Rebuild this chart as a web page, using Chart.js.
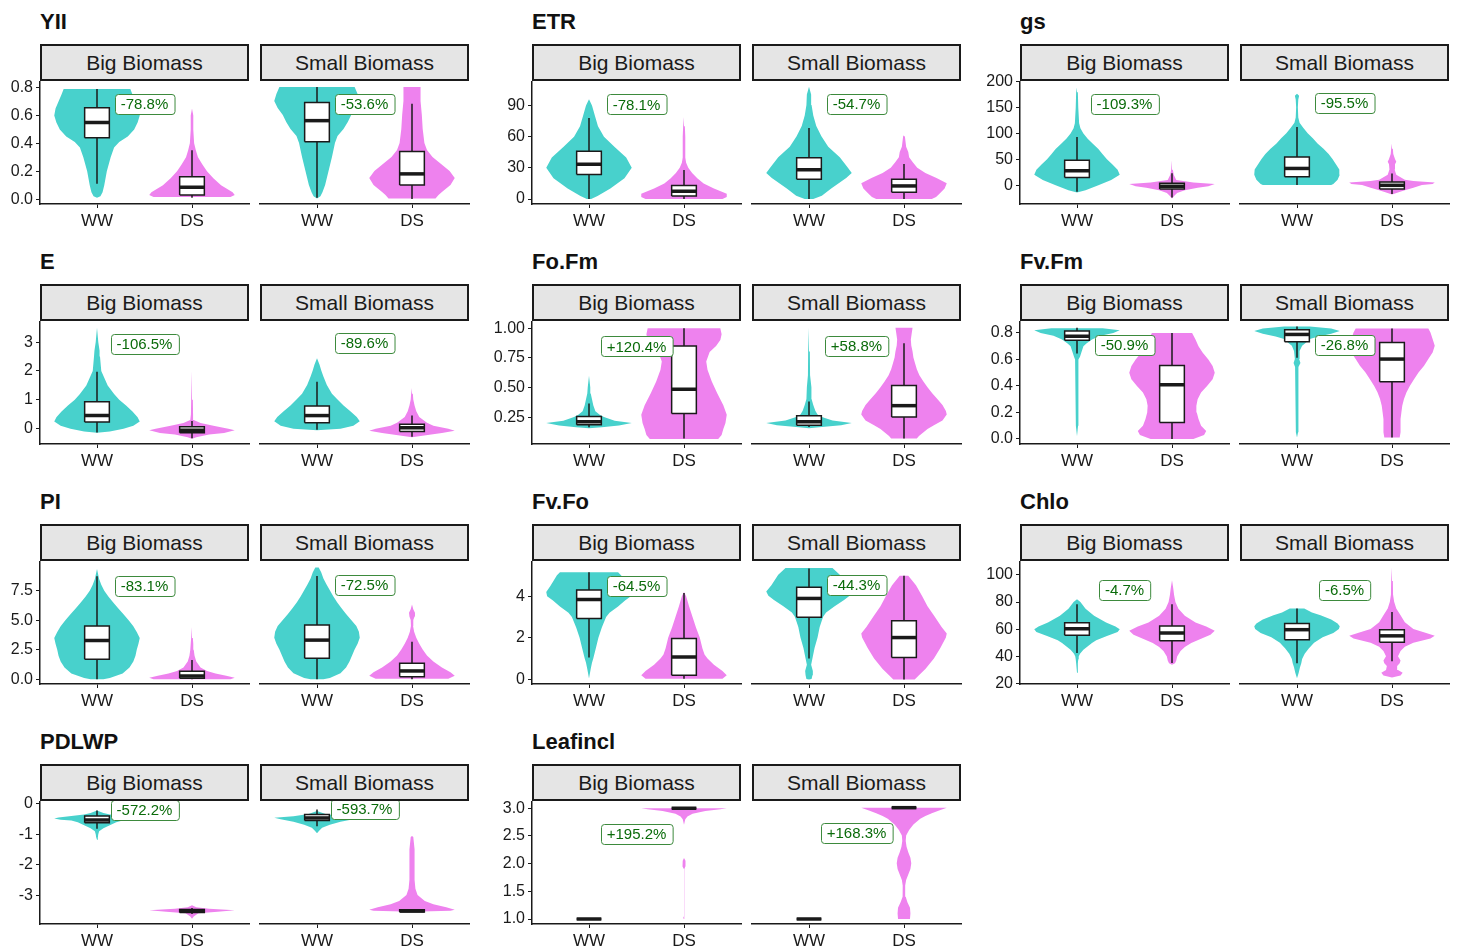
<!DOCTYPE html>
<html>
<head>
<meta charset="utf-8">
<title>Trait distributions by biomass group and water treatment</title>
<script src="https://cdn.jsdelivr.net/npm/chart.js@4.4.1/dist/chart.umd.min.js"></script>
<style>
  html, body { margin: 0; padding: 0; background: #ffffff; }
  body { position: relative; width: 1458px; height: 951px; overflow: hidden;
         font-family: "Liberation Sans", Arial, sans-serif; color: #111; }
  canvas { position: absolute; }
  .trait-title { position: absolute; font-weight: bold; font-size: 22px; line-height: 24px; color: #111; white-space: nowrap; }
  .strip { position: absolute; box-sizing: border-box; background: #e5e5e5; border: 2px solid #1a1a1a;
           font-size: 21px; text-align: center; color: #1a1a1a; white-space: nowrap; }
</style>
</head>
<body>
<script>
// ---------- categories ----------
const conditions = ['WW', 'DS'];
const biomassGroups = ['Big Biomass', 'Small Biomass'];

// Violin outlines are [value, relative half-width]; boxes are
// [lower whisker, Q1, median, Q3, upper whisker] in the order
// Big WW, Big DS, Small WW, Small DS.

// ---------- YII ----------
const yiiTicks = [0, 0.2, 0.4, 0.6, 0.8];
const yiiTickLabels = ['0.0', '0.2', '0.4', '0.6', '0.8'];
const yiiRange = [-0.035, 0.843];
const yiiChange = ['-78.8%', '-53.6%'];
const yiiLabelAt = 0.68;
const yiiBox = [[0.11, 0.44, 0.55, 0.655, 0.79], [0.01, 0.03, 0.085, 0.16, 0.35], [0.01, 0.41, 0.56, 0.69, 0.8], [0.0, 0.1, 0.18, 0.34, 0.68]];
const yiiBigWW = [[0.01,0],[0.02,0.08],[0.05,0.13],[0.1,0.17],[0.2,0.23],[0.3,0.32],[0.37,0.4],[0.41,0.52],[0.45,0.72],[0.5,0.87],[0.55,0.95],[0.6,1.0],[0.65,0.97],[0.7,0.9],[0.75,0.83],[0.79,0.78]];
const yiiBigDS = [[0.015,0.9],[0.03,1.0],[0.05,0.95],[0.1,0.68],[0.15,0.5],[0.2,0.35],[0.25,0.24],[0.3,0.14],[0.35,0.09],[0.4,0.05],[0.5,0.03],[0.6,0.03],[0.65,0]];
const yiiSmallWW = [[0.005,0],[0.02,0.08],[0.05,0.13],[0.1,0.19],[0.2,0.27],[0.3,0.35],[0.4,0.42],[0.45,0.48],[0.5,0.62],[0.55,0.72],[0.6,0.8],[0.65,0.92],[0.7,1.0],[0.75,0.95],[0.8,0.88]];
const yiiSmallDS = [[0.005,0.55],[0.03,0.62],[0.05,0.7],[0.1,0.9],[0.15,1.0],[0.2,0.88],[0.25,0.68],[0.3,0.48],[0.35,0.35],[0.4,0.29],[0.5,0.25],[0.6,0.23],[0.7,0.2],[0.8,0.2]];

// ---------- ETR ----------
const etrTicks = [0, 30, 60, 90];
const etrTickLabels = ['0', '30', '60', '90'];
const etrRange = [-4.8, 113];
const etrChange = ['-78.1%', '-54.7%'];
const etrLabelAt = 91;
const etrBox = [[0, 23.5, 33.5, 46, 78], [0, 3, 7.5, 13, 28], [0, 19, 28, 39.5, 68], [0, 6.5, 12.5, 19, 33.5]];
const etrBigWW = [[0,0.05],[3,0.2],[10,0.5],[20,0.83],[30,1.0],[40,0.87],[50,0.6],[60,0.35],[70,0.21],[80,0.14],[90,0.07],[96,0]];
const etrBigDS = [[0,0.9],[2,1.0],[5,1.0],[10,0.7],[15,0.46],[20,0.31],[25,0.19],[30,0.1],[35,0.05],[40,0.03],[60,0.03],[70,0.02],[79,0]];
const etrSmallWW = [[0,0.1],[3,0.3],[10,0.52],[20,0.87],[25,1.0],[30,0.91],[40,0.72],[50,0.45],[60,0.29],[70,0.17],[80,0.1],[90,0.06],[100,0.05],[107.5,0]];
const etrSmallDS = [[0,0.65],[2,0.75],[5,0.83],[10,0.95],[15,1.0],[20,0.76],[25,0.5],[30,0.31],[35,0.21],[40,0.12],[45,0.1],[50,0.05],[60,0.02],[61,0]];

// ---------- gs ----------
const gsTicks = [0, 50, 100, 150, 200];
const gsTickLabels = ['0', '50', '100', '150', '200'];
const gsRange = [-36.5, 200.5];
const gsChange = ['-109.3%', '-95.5%'];
const gsLabelAt = 158;
const gsBox = [[-13, 15, 28, 48, 93], [-24, -7.5, -2, 3.5, 23], [0, 16, 32, 54, 112], [-17, -7.5, -0.5, 6, 22.5]];
const gsBigWW = [[-14,0],[-10,0.2],[0,0.5],[10,0.8],[20,1.0],[30,0.95],[40,0.83],[50,0.7],[60,0.6],[70,0.5],[80,0.37],[90,0.25],[100,0.15],[110,0.08],[120,0.05],[150,0.03],[180,0.02],[189,0]];
const gsBigDS = [[-26,0],[-20,0.06],[-15,0.12],[-10,0.3],[-5,0.6],[-2,0.85],[2,1.0],[5,0.5],[10,0.1],[20,0.04],[30,0.02],[48,0]];
const gsSmallWW = [[0,0.8],[2,0.85],[10,0.95],[20,1.0],[30,0.99],[40,0.91],[50,0.83],[60,0.74],[70,0.62],[80,0.48],[90,0.37],[100,0.25],[110,0.15],[120,0.06],[130,0.03],[150,0.02],[165,0.03],[172,0.05],[176,0]];
const gsSmallDS = [[-18,0],[-15,0.12],[-10,0.3],[-5,0.5],[0,0.7],[2,0.95],[5,1.0],[8,0.5],[10,0.3],[20,0.1],[30,0.06],[40,0.07],[45,0.1],[50,0.07],[60,0.03],[70,0.02],[80,0]];

// ---------- E ----------
const eTicks = [0, 1, 2, 3];
const eTickLabels = ['0', '1', '2', '3'];
const eRange = [-0.53, 3.71];
const eChange = ['-106.5%', '-89.6%'];
const eLabelAt = 2.95;
const eBox = [[-0.13, 0.23, 0.46, 0.93, 1.97], [-0.33, -0.14, -0.05, 0.07, 0.27], [-0.04, 0.2, 0.45, 0.78, 1.62], [-0.28, -0.1, 0.03, 0.15, 0.45]];
const eBigWW = [[-0.14,0],[-0.1,0.3],[0,0.62],[0.1,0.85],[0.25,1.0],[0.4,0.95],[0.6,0.83],[0.8,0.68],[1.0,0.52],[1.2,0.4],[1.5,0.25],[2.0,0.1],[2.5,0.07],[2.7,0.06],[3.0,0.03],[3.5,0]];
const eBigDS = [[-0.35,0],[-0.3,0.1],[-0.2,0.4],[-0.15,0.75],[-0.05,1.0],[0,0.85],[0.1,0.5],[0.2,0.2],[0.3,0.04],[0.5,0.025],[1.0,0.02],[2.0,0]];
const eSmallWW = [[-0.06,0],[0,0.55],[0.1,0.85],[0.25,1.0],[0.4,0.93],[0.6,0.78],[0.8,0.62],[1.0,0.48],[1.2,0.35],[1.5,0.23],[1.8,0.15],[2.0,0.1],[2.2,0.06],[2.43,0]];
const eSmallDS = [[-0.3,0],[-0.2,0.45],[-0.15,0.7],[-0.07,1.0],[0,0.85],[0.1,0.5],[0.2,0.35],[0.4,0.17],[0.6,0.1],[0.8,0.06],[1.0,0.03],[1.2,0.02],[1.4,0]];

// ---------- Fo.Fm ----------
const fofmTicks = [0.25, 0.5, 0.75, 1.0];
const fofmTickLabels = ['0.25', '0.50', '0.75', '1.00'];
const fofmRange = [0.023, 1.056];
const fofmChange = ['+120.4%', '+58.8%'];
const fofmLabelAt = 0.846;
const fofmBox = [[0.165, 0.185, 0.21, 0.255, 0.365], [0.07, 0.28, 0.485, 0.85, 1.0], [0.165, 0.18, 0.21, 0.26, 0.38], [0.07, 0.25, 0.345, 0.515, 0.87]];
const fofmBigWW = [[0.155,0],[0.165,0.3],[0.18,0.7],[0.2,1.0],[0.22,0.6],[0.25,0.35],[0.27,0.25],[0.3,0.15],[0.35,0.1],[0.4,0.07],[0.45,0.04],[0.5,0.03],[0.6,0]];
const fofmBigDS = [[0.065,0.8],[0.1,0.88],[0.15,0.92],[0.2,0.97],[0.27,1.0],[0.35,0.92],[0.45,0.78],[0.55,0.65],[0.65,0.55],[0.72,0.52],[0.8,0.6],[0.85,0.75],[0.9,0.85],[0.95,0.88],[1.0,0.85]];
const fofmSmallWW = [[0.155,0],[0.165,0.3],[0.18,0.75],[0.2,1.0],[0.22,0.55],[0.25,0.3],[0.27,0.2],[0.3,0.15],[0.35,0.1],[0.4,0.06],[0.44,0.05],[0.47,0.07],[0.5,0.05],[0.6,0.025],[0.8,0.02],[1.0,0]];
const fofmSmallDS = [[0.07,0.3],[0.09,0.35],[0.12,0.45],[0.15,0.55],[0.18,0.7],[0.22,0.9],[0.27,1.0],[0.3,0.98],[0.35,0.9],[0.4,0.78],[0.45,0.66],[0.5,0.55],[0.55,0.45],[0.6,0.36],[0.65,0.3],[0.7,0.26],[0.75,0.22],[0.8,0.2],[0.85,0.17],[0.9,0.16],[0.95,0.18],[1.0,0.2]];

// ---------- Fv.Fm ----------
const fvfmTicks = [0, 0.2, 0.4, 0.6, 0.8];
const fvfmTickLabels = ['0.0', '0.2', '0.4', '0.6', '0.8'];
const fvfmRange = [-0.038, 0.886];
const fvfmChange = ['-50.9%', '-26.8%'];
const fvfmLabelAt = 0.707;
const fvfmBox = [[0.645, 0.745, 0.775, 0.815, 0.84], [0.0, 0.125, 0.41, 0.555, 0.8], [0.61, 0.73, 0.785, 0.82, 0.845], [0.01, 0.43, 0.6, 0.725, 0.83]];
const fvfmBigWW = [[0.02,0],[0.1,0.025],[0.3,0.025],[0.5,0.03],[0.6,0.045],[0.62,0.07],[0.65,0.1],[0.7,0.15],[0.72,0.22],[0.75,0.35],[0.78,0.55],[0.8,0.85],[0.82,1.0],[0.835,0.6]];
const fvfmBigDS = [[0.0,0.5],[0.03,0.75],[0.06,0.8],[0.1,0.68],[0.15,0.62],[0.2,0.58],[0.25,0.57],[0.3,0.6],[0.35,0.68],[0.4,0.82],[0.45,0.95],[0.5,1.0],[0.55,0.95],[0.6,0.85],[0.65,0.72],[0.7,0.62],[0.75,0.55],[0.8,0.47]];
const fvfmSmallWW = [[0.01,0],[0.05,0.025],[0.3,0.025],[0.5,0.03],[0.54,0.045],[0.57,0.08],[0.6,0.05],[0.62,0.05],[0.66,0.07],[0.7,0.12],[0.72,0.2],[0.75,0.3],[0.77,0.5],[0.79,0.8],[0.81,1.0],[0.83,0.8],[0.845,0.3]];
const fvfmSmallDS = [[0.01,0.18],[0.05,0.2],[0.1,0.2],[0.15,0.2],[0.2,0.22],[0.25,0.24],[0.3,0.28],[0.35,0.34],[0.4,0.42],[0.45,0.52],[0.5,0.62],[0.55,0.75],[0.6,0.85],[0.65,0.95],[0.7,1.0],[0.75,0.95],[0.8,0.9],[0.83,0.85]];

// ---------- PI ----------
const piTicks = [0, 2.5, 5, 7.5];
const piTickLabels = ['0.0', '2.5', '5.0', '7.5'];
const piRange = [-0.4, 9.97];
const piChange = ['-83.1%', '-72.5%'];
const piLabelAt = 7.94;
const piBox = [[0, 1.7, 3.28, 4.52, 8.73], [0, 0.08, 0.28, 0.67, 1.63], [0, 1.77, 3.3, 4.57, 8.7], [0, 0.22, 0.7, 1.35, 3.17]];
const piBigWW = [[0,0.15],[0.1,0.3],[0.5,0.6],[1.0,0.76],[1.5,0.85],[2.0,0.9],[2.5,0.93],[3.0,0.97],[3.5,1.0],[4.0,0.93],[4.5,0.85],[5.0,0.74],[5.5,0.62],[6.0,0.5],[6.5,0.38],[7.0,0.27],[7.5,0.17],[8.0,0.1],[8.5,0.05],[9.35,0]];
const piBigDS = [[0.0,0.9],[0.12,1.0],[0.3,0.8],[0.5,0.55],[0.7,0.35],[1.0,0.2],[1.5,0.1],[2.0,0.06],[2.5,0.04],[3.0,0.03],[3.5,0.02],[4.43,0]];
const piSmallWW = [[0,0.15],[0.1,0.3],[0.5,0.55],[1.0,0.68],[1.5,0.76],[2.0,0.82],[2.5,0.88],[3.0,0.95],[3.5,1.0],[4.0,0.98],[4.5,0.92],[5.0,0.8],[5.5,0.68],[6.0,0.57],[6.5,0.47],[7.0,0.38],[7.5,0.3],[8.0,0.22],[8.5,0.15],[9.0,0.1],[9.43,0.04]];
const piSmallDS = [[0.05,0.85],[0.3,1.0],[0.6,0.9],[1.0,0.7],[1.5,0.5],[2.0,0.35],[2.5,0.25],[3.0,0.17],[3.5,0.1],[4.0,0.05],[4.5,0.025],[5.0,0.03],[5.3,0.06],[5.6,0.07],[5.9,0.03],[6.3,0]];

// ---------- Fv.Fo ----------
const fvfoTicks = [0, 2, 4];
const fvfoTickLabels = ['0', '2', '4'];
const fvfoRange = [-0.22, 5.66];
const fvfoChange = ['-64.5%', '-44.3%'];
const fvfoLabelAt = 4.51;
const fvfoBox = [[1.05, 2.93, 3.84, 4.29, 5.15], [0.03, 0.2, 1.08, 1.96, 4.15], [1.0, 2.97, 3.87, 4.4, 5.3], [0, 1.05, 2.0, 2.8, 4.95]];
const fvfoBigWW = [[0.05,0],[0.5,0.04],[0.8,0.07],[1.0,0.1],[1.5,0.16],[2.0,0.22],[2.5,0.3],[3.0,0.4],[3.2,0.48],[3.5,0.68],[3.8,0.85],[4.0,0.98],[4.2,1.0],[4.5,0.9],[5.0,0.75],[5.15,0.68]];
const fvfoBigDS = [[0.03,0.9],[0.2,1.0],[0.4,0.9],[0.7,0.7],[1.0,0.55],[1.2,0.48],[1.5,0.43],[2.0,0.37],[2.5,0.28],[3.0,0.2],[3.5,0.12],[4.0,0.05],[4.2,0]];
const fvfoSmallWW = [[0,0],[0.02,0.06],[0.2,0.08],[0.4,0.09],[0.7,0.05],[1.0,0.08],[1.5,0.13],[2.0,0.2],[2.5,0.25],[3.0,0.33],[3.2,0.4],[3.5,0.6],[3.8,0.82],[4.0,0.95],[4.2,1.0],[4.5,0.88],[5.0,0.72],[5.33,0.55]];
const fvfoSmallDS = [[0,0.25],[0.2,0.35],[0.5,0.5],[1.0,0.7],[1.5,0.85],[2.0,0.98],[2.2,1.0],[2.5,0.88],[3.0,0.72],[3.5,0.55],[4.0,0.42],[4.5,0.28],[4.7,0.2],[4.95,0.1]];

// ---------- Chlo ----------
const chloTicks = [20, 40, 60, 80, 100];
const chloTickLabels = ['20', '40', '60', '80', '100'];
const chloRange = [19.8, 109.7];
const chloChange = ['-4.7%', '-6.5%'];
const chloLabelAt = 88.6;
const chloBox = [[42.5, 55.6, 60.3, 64.8, 78.4], [35.3, 51.5, 57.3, 62.4, 78.4], [35, 52.2, 59.5, 64, 75], [36.5, 50.3, 55, 59.5, 72.4]];
const chloBigWW = [[28,0],[35,0.02],[38,0.03],[40,0.04],[42,0.07],[45,0.15],[50,0.35],[52,0.45],[55,0.7],[58,0.95],[60,1.0],[62,0.9],[65,0.68],[70,0.4],[75,0.2],[80,0.08],[82,0]];
const chloBigDS = [[34,0],[35,0.07],[37,0.1],[40,0.12],[44,0.2],[47,0.3],[50,0.45],[53,0.68],[56,0.9],[59,1.0],[62,0.8],[65,0.55],[70,0.3],[75,0.15],[80,0.08],[85,0.05],[90,0.03],[96,0]];
const chloSmallWW = [[24,0],[28,0.04],[32,0.07],[35,0.1],[38,0.12],[42,0.18],[46,0.28],[50,0.4],[54,0.6],[57,0.85],[60,0.98],[62,1.0],[64,0.95],[67,0.8],[70,0.55],[72,0.35],[75,0.17]];
const chloSmallDS = [[24.5,0],[26,0.2],[28,0.25],[30,0.14],[33,0.12],[35,0.18],[37,0.2],[40,0.14],[44,0.2],[47,0.3],[50,0.5],[53,0.9],[55,1.0],[57,0.8],[60,0.5],[65,0.3],[70,0.2],[75,0.1],[80,0.05],[85,0.025],[95,0.02],[105,0]];

// ---------- PDLWP ----------
const pdlwpTicks = [-3, -2, -1, 0];
const pdlwpTickLabels = ['-3', '-2', '-1', '0'];
const pdlwpRange = [-3.95, 0.075];
const pdlwpChange = ['-572.2%', '-593.7%'];
const pdlwpLabelAt = -0.19;
const pdlwpBox = [[-0.82, -0.62, -0.53, -0.4, -0.22], [-3.62, -3.57, -3.52, -3.47, -3.42], [-0.75, -0.56, -0.48, -0.37, -0.2], [-3.56, -3.56, -3.52, -3.48, -3.48]];
const pdlwpBigWW = [[-1.18,0],[-1.1,0.02],[-1.0,0.03],[-0.9,0.05],[-0.8,0.15],[-0.7,0.3],[-0.6,0.45],[-0.55,0.6],[-0.52,0.85],[-0.48,1.0],[-0.45,0.9],[-0.4,0.6],[-0.35,0.3],[-0.3,0.15],[-0.22,0]];
const pdlwpBigDS = [[-3.78,0],[-3.7,0.04],[-3.6,0.15],[-3.55,0.6],[-3.5,1.0],[-3.45,0.4],[-3.4,0.1],[-3.33,0]];
const pdlwpSmallWW = [[-0.98,0],[-0.9,0.05],[-0.8,0.12],[-0.7,0.3],[-0.6,0.55],[-0.52,0.85],[-0.47,1.0],[-0.42,0.55],[-0.35,0.2],[-0.25,0]];
const pdlwpSmallDS = [[-3.55,0],[-3.52,0.9],[-3.48,1.0],[-3.4,0.8],[-3.3,0.5],[-3.2,0.3],[-3.0,0.13],[-2.8,0.08],[-2.5,0.06],[-2.0,0.06],[-1.5,0.06],[-1.1,0.03],[-1.07,0]];

// ---------- Leafincl ----------
const leafTicks = [1, 1.5, 2, 2.5, 3];
const leafTickLabels = ['1.0', '1.5', '2.0', '2.5', '3.0'];
const leafRange = [0.91, 3.12];
const leafChange = ['+195.2%', '+168.3%'];
const leafLabelAt = 2.54;
const leafBox = [[1, 1, 1, 1, 1], [3, 3, 3, 3, 3], [1, 1, 1, 1, 1], [3, 3, 3, 3, 3]];
const leafBigWW = [];
const leafBigDS = [[1.0,0],[1.02,0.02],[1.05,0],[1.9,0],[1.95,0.03],[2.0,0.04],[2.05,0.03],[2.1,0],[2.7,0],[2.8,0.03],[2.85,0.08],[2.9,0.2],[2.95,0.5],[2.98,0.85],[3.0,1.0]];
const leafSmallWW = [];
const leafSmallDS = [[1.0,0.14],[1.1,0.15],[1.2,0.14],[1.3,0.08],[1.4,0.04],[1.5,0.025],[1.6,0.03],[1.7,0.05],[1.8,0.1],[1.9,0.15],[2.0,0.17],[2.1,0.15],[2.2,0.1],[2.3,0.06],[2.4,0.04],[2.5,0.05],[2.6,0.12],[2.7,0.22],[2.8,0.38],[2.85,0.5],[2.9,0.65],[2.95,0.82],[3.0,1.0]];

// ---------- table of traits built from the arrays above ----------
const traitTable = [
  { name: 'YII', ticks: yiiTicks, tickLabels: yiiTickLabels, range: yiiRange, change: yiiChange, labelAt: yiiLabelAt, box: yiiBox, violins: [yiiBigWW, yiiBigDS, yiiSmallWW, yiiSmallDS] },
  { name: 'ETR', ticks: etrTicks, tickLabels: etrTickLabels, range: etrRange, change: etrChange, labelAt: etrLabelAt, box: etrBox, violins: [etrBigWW, etrBigDS, etrSmallWW, etrSmallDS] },
  { name: 'gs', ticks: gsTicks, tickLabels: gsTickLabels, range: gsRange, change: gsChange, labelAt: gsLabelAt, box: gsBox, violins: [gsBigWW, gsBigDS, gsSmallWW, gsSmallDS] },
  { name: 'E', ticks: eTicks, tickLabels: eTickLabels, range: eRange, change: eChange, labelAt: eLabelAt, box: eBox, violins: [eBigWW, eBigDS, eSmallWW, eSmallDS] },
  { name: 'Fo.Fm', ticks: fofmTicks, tickLabels: fofmTickLabels, range: fofmRange, change: fofmChange, labelAt: fofmLabelAt, box: fofmBox, violins: [fofmBigWW, fofmBigDS, fofmSmallWW, fofmSmallDS] },
  { name: 'Fv.Fm', ticks: fvfmTicks, tickLabels: fvfmTickLabels, range: fvfmRange, change: fvfmChange, labelAt: fvfmLabelAt, box: fvfmBox, violins: [fvfmBigWW, fvfmBigDS, fvfmSmallWW, fvfmSmallDS] },
  { name: 'PI', ticks: piTicks, tickLabels: piTickLabels, range: piRange, change: piChange, labelAt: piLabelAt, box: piBox, violins: [piBigWW, piBigDS, piSmallWW, piSmallDS] },
  { name: 'Fv.Fo', ticks: fvfoTicks, tickLabels: fvfoTickLabels, range: fvfoRange, change: fvfoChange, labelAt: fvfoLabelAt, box: fvfoBox, violins: [fvfoBigWW, fvfoBigDS, fvfoSmallWW, fvfoSmallDS] },
  { name: 'Chlo', ticks: chloTicks, tickLabels: chloTickLabels, range: chloRange, change: chloChange, labelAt: chloLabelAt, box: chloBox, violins: [chloBigWW, chloBigDS, chloSmallWW, chloSmallDS] },
  { name: 'PDLWP', ticks: pdlwpTicks, tickLabels: pdlwpTickLabels, range: pdlwpRange, change: pdlwpChange, labelAt: pdlwpLabelAt, box: pdlwpBox, violins: [pdlwpBigWW, pdlwpBigDS, pdlwpSmallWW, pdlwpSmallDS] },
  { name: 'Leafincl', ticks: leafTicks, tickLabels: leafTickLabels, range: leafRange, change: leafChange, labelAt: leafLabelAt, box: leafBox, violins: [leafBigWW, leafBigDS, leafSmallWW, leafSmallDS] }
];

// ---------- page layout ----------
const colLeft = [40, 532, 1020];
const rowStripTop = [44, 284, 524, 764];
const facetW = 209, facetGap = 11, stripH = 37, plotH = 123;
const axisW = 45, padTop = 12, padRight = 6, xAxisH = 40;
const FONT = '"Liberation Sans", Arial, sans-serif';
const fillColors = ['#48D1CC', '#EE82EE'];
const INK = '#1a1a1a';
const HALF_WIDTH = 0.45;   // violin half-width in category units
const BOX_HALF = 0.13;     // box half-width in category units

Chart.defaults.font.family = FONT;

// Violin outline: right edge upward, then left edge back down.
function violinPoints(profile, center) {
  const right = profile.map(([v, w]) => ({ x: center + w * HALF_WIDTH, y: v }));
  const left = profile.slice().reverse().map(([v, w]) => ({ x: center - w * HALF_WIDTH, y: v }));
  return right.concat(left);
}

// Percent-change label placed in data coordinates between the two conditions.
const changeLabelPlugin = {
  id: 'changeLabel',
  afterDatasetsDraw(chart, args, opts) {
    if (!opts || !opts.text) return;
    const { ctx } = chart;
    const px = chart.scales.x.getPixelForValue(opts.at[0]);
    const py = chart.scales.y.getPixelForValue(opts.at[1]);
    ctx.save();
    ctx.font = '15px ' + FONT;
    const w = ctx.measureText(opts.text).width + 12, h = 20, r = 3;
    const x0 = Math.round(px - w / 2) + 0.5, y0 = Math.round(py - h / 2) + 0.5;
    ctx.beginPath();
    ctx.moveTo(x0 + r, y0);
    ctx.lineTo(x0 + w - r, y0); ctx.arcTo(x0 + w, y0, x0 + w, y0 + r, r);
    ctx.lineTo(x0 + w, y0 + h - r); ctx.arcTo(x0 + w, y0 + h, x0 + w - r, y0 + h, r);
    ctx.lineTo(x0 + r, y0 + h); ctx.arcTo(x0, y0 + h, x0, y0 + h - r, r);
    ctx.lineTo(x0, y0 + r); ctx.arcTo(x0, y0, x0 + r, y0, r);
    ctx.closePath();
    ctx.fillStyle = '#ffffff'; ctx.fill();
    ctx.strokeStyle = '#3d8a3d'; ctx.lineWidth = 1; ctx.stroke();
    ctx.fillStyle = '#0a6b0a'; ctx.textAlign = 'center'; ctx.textBaseline = 'middle';
    ctx.fillText(opts.text, px, py + 1);
    ctx.restore();
  }
};

function addDiv(cls, text, left, top, width, height) {
  const d = document.createElement('div');
  d.className = cls; d.textContent = text;
  d.style.left = left + 'px'; d.style.top = top + 'px';
  if (width) d.style.width = width + 'px';
  if (height) { d.style.height = height + 'px'; d.style.lineHeight = (height - 4) + 'px'; }
  document.body.appendChild(d);
}

function makeFacet(trait, f, fx, plotTop) {
  const showY = f === 0;
  const canvas = document.createElement('canvas');
  canvas.width = axisW + facetW + padRight;
  canvas.height = padTop + plotH + xAxisH;
  canvas.style.left = (fx - axisW) + 'px';
  canvas.style.top = (plotTop - padTop) + 'px';
  document.body.appendChild(canvas);

  const datasets = [];
  conditions.forEach((cond, k) => {
    const c = k + 1;
    const profile = trait.violins[f * 2 + k];
    const [lo, q1, med, q3, hi] = trait.box[f * 2 + k];
    const common = { showLine: true, pointRadius: 0, pointHoverRadius: 0, tension: 0 };
    if (profile.length) {
      datasets.push({ ...common, label: cond + ' density', data: violinPoints(profile, c),
        fill: 'shape', backgroundColor: fillColors[k], borderWidth: 0, order: 3 });
    }
    datasets.push({ ...common, label: cond + ' whisker', data: [{ x: c, y: lo }, { x: c, y: hi }],
      fill: false, borderColor: INK, borderWidth: 1.5, order: 2 });
    datasets.push({ ...common, label: cond + ' box',
      data: [{ x: c - BOX_HALF, y: q1 }, { x: c + BOX_HALF, y: q1 }, { x: c + BOX_HALF, y: q3 }, { x: c - BOX_HALF, y: q3 }, { x: c - BOX_HALF, y: q1 }],
      fill: 'shape', backgroundColor: '#ffffff', borderColor: INK, borderWidth: 1.5, borderJoinStyle: 'miter', order: 1 });
    datasets.push({ ...common, label: cond + ' median', data: [{ x: c - BOX_HALF, y: med }, { x: c + BOX_HALF, y: med }],
      fill: false, borderColor: INK, borderWidth: 3.5, borderCapStyle: 'butt', order: 0 });
  });

  new Chart(canvas, {
    type: 'scatter',
    data: { datasets },
    plugins: [changeLabelPlugin],
    options: {
      responsive: false,
      animation: false,
      devicePixelRatio: 1,
      events: [],
      layout: { padding: { top: padTop, right: padRight, bottom: 0, left: showY ? 0 : axisW } },
      plugins: {
        legend: { display: false },
        tooltip: { enabled: false },
        changeLabel: { text: trait.change[f], at: [1.5, trait.labelAt] }
      },
      scales: {
        x: {
          type: 'linear', min: 0.4, max: 2.6,
          afterBuildTicks: s => { s.ticks = conditions.map((_, k) => ({ value: k + 1 })); },
          afterFit: s => { s.height = xAxisH; },
          ticks: { callback: v => conditions[v - 1], font: { size: 17 }, color: INK, padding: 3, maxRotation: 0, autoSkip: false },
          grid: { drawOnChartArea: false, drawTicks: true, tickLength: 4, color: INK, tickColor: INK, lineWidth: 1 },
          border: { display: true, color: INK, width: 1.5 }
        },
        y: {
          type: 'linear', display: showY, min: trait.range[0], max: trait.range[1],
          afterBuildTicks: s => { s.ticks = trait.ticks.map(v => ({ value: v })); },
          afterFit: s => { s.width = showY ? axisW : 0; },
          ticks: { callback: (v, i) => trait.tickLabels[i], font: { size: 16 }, color: INK, padding: 3, autoSkip: false },
          grid: { drawOnChartArea: false, drawTicks: true, tickLength: 4, color: INK, tickColor: INK, lineWidth: 1 },
          border: { display: true, color: INK, width: 1.5 }
        }
      }
    }
  });
}

traitTable.forEach((trait, i) => {
  const col = i % 3, row = Math.floor(i / 3);
  const x0 = colLeft[col], stripTop = rowStripTop[row];
  addDiv('trait-title', trait.name, x0, stripTop - 34);
  biomassGroups.forEach((group, f) => {
    const fx = x0 + f * (facetW + facetGap);
    makeFacet(trait, f, fx, stripTop + stripH);
    addDiv('strip', group, fx, stripTop, facetW, stripH);
  });
});
</script>
</body>
</html>
